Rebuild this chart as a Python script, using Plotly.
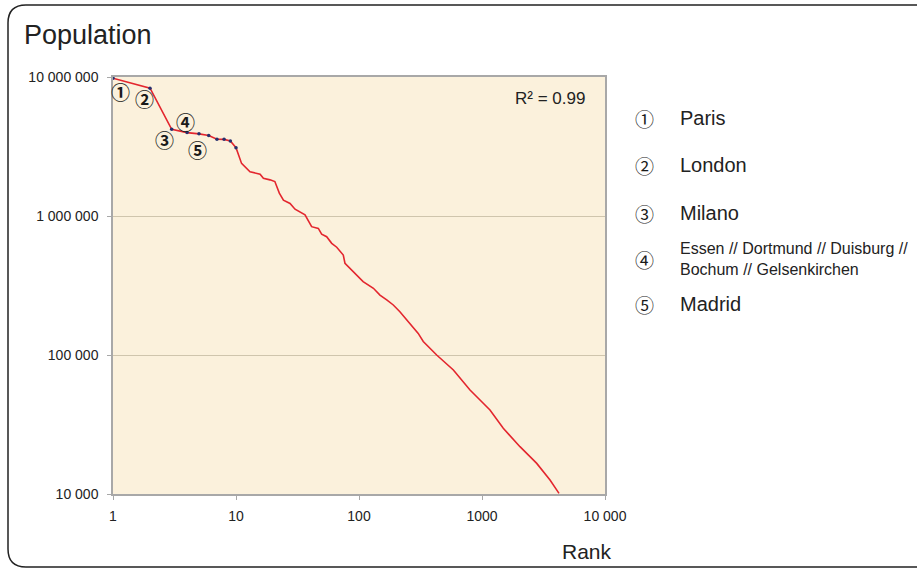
import math
import plotly.graph_objects as go

# ---- data ----
rank = [1, 2, 3, 4, 5, 6, 7, 8, 9, 10,
        11.1, 13.0, 15.7, 16.7, 18.9, 20.7, 22.5, 24.3, 27.5, 30.2,
        36.4, 41.2, 46.7, 49.7, 54.6, 60.0, 65.9, 74.5, 76.9, 89.9,
        108, 131, 148, 168, 190, 215, 260, 303, 333, 428,
        585, 799, 1161, 1489, 2036, 2786, 3573, 4228]
population = [9800000, 8300000, 4200000, 3980000, 3900000, 3800000, 3570000, 3560000, 3470000, 3100000,
              2390000, 2080000, 2000000, 1870000, 1820000, 1770000, 1460000, 1300000, 1230000, 1120000,
              1020000, 838000, 815000, 741000, 710000, 636000, 596000, 524000, 457000, 397000,
              337000, 302000, 270000, 249000, 229000, 205000, 169000, 143000, 125000, 100000,
              78000, 56000, 40200, 29700, 21900, 16600, 12600, 10100]
n_marked = 10

x_tickvals = [1, 10, 100, 1000, 10000]
x_ticktext = ["1", "10", "100", "1000", "10 000"]
y_tickvals = [10000, 100000, 1000000, 10000000]
y_ticktext = ["10 000", "100 000", "1 000 000", "10 000 000"]

marker_labels = ["①", "②", "③", "④", "⑤"]
marker_rank = [1.14, 1.79, 2.6, 3.92, 4.82]
marker_pop = [7930000, 7060000, 3580000, 4750000, 3030000]

legend_symbols = ["①", "②", "③", "④", "⑤"]
legend_names = ["Paris", "London", "Milano",
                "Essen // Dortmund // Duisburg //<br>Bochum // Gelsenkirchen", "Madrid"]
r2_text = "R² = 0.99"

# ---- layout constants ----
W, H = 917, 572
PL, PR, PT, PB = 113, 605, 77, 494


def px(x):
    return (x - PL) / (PR - PL)


def py(y):
    return (PB - y) / (PB - PT)


FONT = "Liberation Sans, Arial, sans-serif"
CIRC = "Noto Sans CJK JP, DejaVu Sans, sans-serif"

fig = go.Figure()
fig.add_trace(go.Scatter(x=rank, y=population, mode="lines",
                         line=dict(color="#E3262E", width=1.6),
                         hoverinfo="skip", showlegend=False))
fig.add_trace(go.Scatter(x=rank[:n_marked], y=population[:n_marked], mode="markers",
                         marker=dict(color="#27306E", size=3.5),
                         hoverinfo="skip", showlegend=False))

annotations = []
for s, xr, yp in zip(marker_labels, marker_rank, marker_pop):
    annotations.append(dict(x=math.log10(xr), y=math.log10(yp), xref="x", yref="y",
                            text="<b>" + s + "</b>", showarrow=False,
                            xanchor="center", yanchor="middle",
                            font=dict(family=CIRC, size=19, color="#1a1a1a")))

legend_y = [118, 165, 213, 259, 304]
for sym, name, yy in zip(legend_symbols, legend_names, legend_y):
    annotations.append(dict(x=px(644), y=py(yy), xref="paper", yref="paper",
                            text=sym, showarrow=False, xanchor="center", yanchor="middle",
                            font=dict(family=CIRC, size=19, color="#1a1a1a")))
    is_long = "<br>" in name
    annotations.append(dict(x=px(678), y=py(yy), xref="paper", yref="paper",
                            text=name, showarrow=False, xanchor="left", yanchor="middle",
                            align="left",
                            font=dict(family=FONT, size=16 if is_long else 20, color="#222")))

annotations.append(dict(x=px(587), y=py(98), xref="paper", yref="paper", text=r2_text,
                        showarrow=False, xanchor="right", yanchor="middle",
                        font=dict(family=FONT, size=17, color="#222")))
annotations.append(dict(x=px(22), y=py(35), xref="paper", yref="paper", text="Population",
                        showarrow=False, xanchor="left", yanchor="middle",
                        font=dict(family=FONT, size=27, color="#222")))
annotations.append(dict(x=px(614), y=py(551), xref="paper", yref="paper", text="Rank",
                        showarrow=False, xanchor="right", yanchor="middle",
                        font=dict(family=FONT, size=21, color="#222")))

# rounded outer frame
L, T, R, B, rad = 8, 5, 945, 567, 18
rx, ry = rad / (PR - PL), rad / (PB - PT)
x0, x1, y0, y1 = px(L), px(R), py(B), py(T)
path = (f"M {x0} {y1 - ry} Q {x0} {y1} {x0 + rx} {y1} L {x1 - rx} {y1} "
        f"Q {x1} {y1} {x1} {y1 - ry} L {x1} {y0 + ry} Q {x1} {y0} {x1 - rx} {y0} "
        f"L {x0 + rx} {y0} Q {x0} {y0} {x0} {y0 + ry} Z")

fig.update_layout(
    width=W, height=H,
    margin=dict(l=PL, r=W - PR, t=PT, b=H - PB),
    paper_bgcolor="white", plot_bgcolor="#FBF1DC",
    annotations=annotations,
    shapes=[dict(type="path", path=path, xref="paper", yref="paper",
                 line=dict(color="#222", width=1.5), layer="above")],
    xaxis=dict(type="log", range=[0, 4], tickvals=x_tickvals, ticktext=x_ticktext,
               showgrid=False, zeroline=False, showline=True, mirror=True,
               linecolor="#A8A8A8", linewidth=1.5, ticks="outside", ticklen=4,
               tickcolor="#A8A8A8", ticklabelstandoff=4,
               tickfont=dict(family=FONT, size=14, color="#222")),
    yaxis=dict(type="log", range=[4, 7], tickvals=y_tickvals, ticktext=y_ticktext,
               showgrid=True, gridcolor="#CFC5AD", gridwidth=1, zeroline=False,
               showline=True, mirror=True, linecolor="#A8A8A8", linewidth=1.5,
               ticks="outside", ticklen=4, tickcolor="#A8A8A8",
               ticklabelstandoff=6,
               tickfont=dict(family=FONT, size=14, color="#222")),
)

fig.write_html("out.html", config={"displayModeBar": False},
               post_script="document.body.style.margin='0';document.body.style.overflow='hidden';")
